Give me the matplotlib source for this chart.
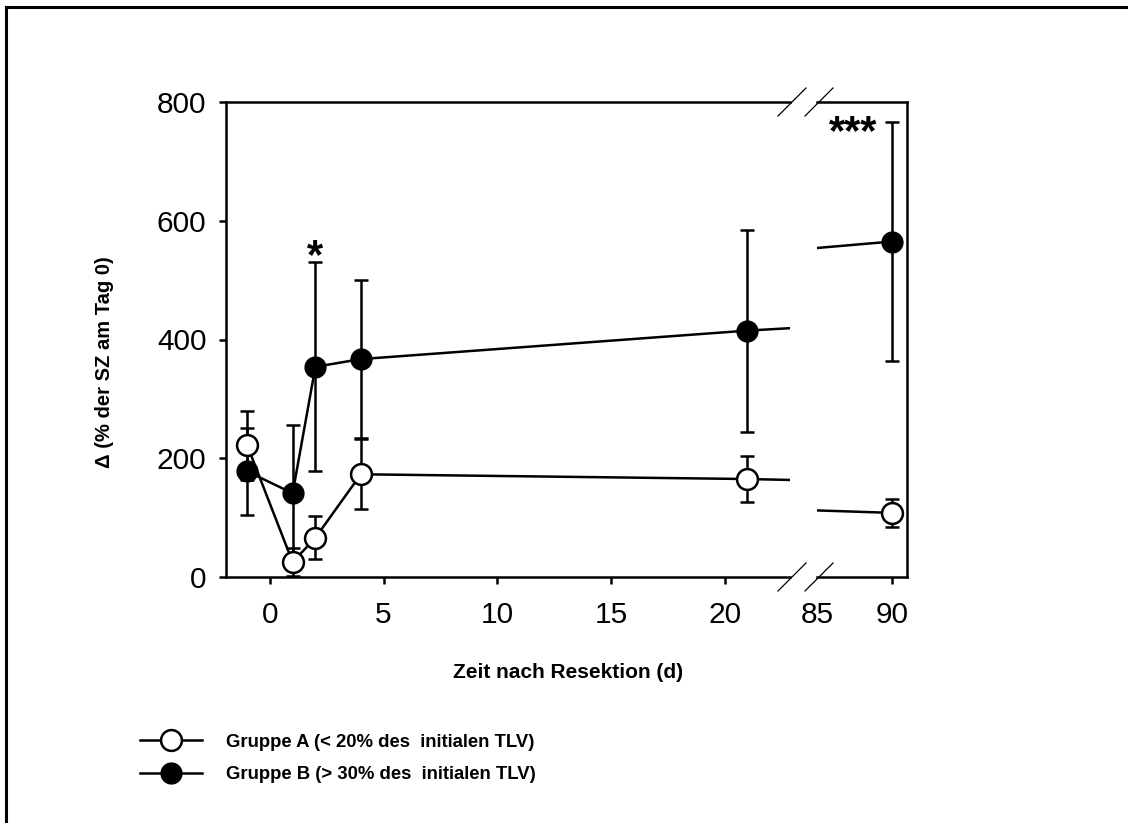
import matplotlib
matplotlib.use("Agg")
import matplotlib.pyplot as plt
from matplotlib.lines import Line2D

plt.rcParams["font.family"] = ["Liberation Sans", "DejaVu Sans"]

# data
days = [-1, 1, 2, 4, 21, 90]
group_a = [222, 25, 66, 173, 165, 108]
group_a_err = [58, 24, 36, 59, 38, 23]
group_b = [178, 141, 354, 367, 415, 565]
group_b_err = [73, 115, 176, 133, 170, 202]

left_ticks = [0, 5, 10, 15, 20]
right_ticks = [85, 90]
y_ticks = [0, 200, 400, 600, 800]

W, H = 1128, 823
fig = plt.figure(figsize=(W / 100, H / 100), dpi=100)


def px_axes(x0, y0, x1, y1):
    # axes from pixel box (left, top, right, bottom)
    return fig.add_axes([x0 / W, 1 - y1 / H, (x1 - x0) / W, (y1 - y0) / H])


ax1 = px_axes(226, 102, 790, 577)
ax2 = px_axes(817, 102, 907, 577)

lw = 1.8
ms = 15
for ax in (ax1, ax2):
    ax.errorbar(days, group_b, yerr=group_b_err, color="black", lw=lw,
                elinewidth=lw, capsize=5, capthick=lw, marker="o", ms=ms,
                mfc="black", mec="black", zorder=3)
    ax.errorbar(days, group_a, yerr=group_a_err, color="black", lw=lw,
                elinewidth=lw, capsize=5, capthick=lw, marker="o", ms=ms,
                mfc="white", mec="black", mew=1.8, zorder=4)
    ax.set_ylim(0, 800)
    ax.tick_params(direction="out", length=5, width=lw, labelsize=21.5)
    ax.tick_params(axis="x", pad=12)
    ax.tick_params(axis="y", pad=9)
    for sp in ax.spines.values():
        sp.set_linewidth(lw)

ax1.set_xlim(-1.93, 22.87)
ax1.set_xticks(left_ticks)
ax1.set_yticks(y_ticks)
ax1.spines["right"].set_visible(False)

ax2.set_xlim(85, 91)
ax2.set_xticks(right_ticks)
ax2.xaxis.get_major_ticks()[0].tick1line.set_visible(False)
ax2.spines["left"].set_visible(False)
ax2.tick_params(axis="y", left=False, labelleft=False)


# break marks
def slash(cx, cy):
    fig.add_artist(Line2D([(cx - 14) / W, (cx + 14) / W],
                          [1 - (cy + 14) / H, 1 - (cy - 14) / H],
                          color="black", lw=0.9))


for cy in (102, 577):
    slash(792, cy)
    slash(819, cy)

# significance marks
ax1.text(2, 521, "*", ha="center", va="baseline", fontsize=30,
         fontweight="bold")
ax2.text(87.4, 729, "***", ha="center", va="baseline", fontsize=30,
         fontweight="bold")

fig.text(568 / W, 1 - 672 / H, "Zeit nach Resektion (d)", ha="center",
         va="center", fontsize=15, fontweight="bold")
fig.text(104 / W, 1 - 362 / H, "Δ (% der SZ am Tag 0)", ha="center",
         va="center", fontsize=14.5, fontweight="bold", rotation=90)

# legend
handles = [
    Line2D([], [], color="black", lw=lw, marker="o", ms=ms, mfc="white",
           mec="black", mew=1.8),
    Line2D([], [], color="black", lw=lw, marker="o", ms=ms, mfc="black",
           mec="black"),
]
labels = ["Gruppe A (< 20% des  initialen TLV)",
          "Gruppe B (> 30% des  initialen TLV)"]
fig.legend(handles, labels, loc="upper left",
           bbox_to_anchor=(123 / W, 1 - 717 / H), frameon=False,
           handlelength=3.4, handletextpad=1.3, labelspacing=0.85,
           prop={"weight": "bold", "size": 13.3})

# outer frame (top and left only visible)
fig.add_artist(Line2D([6 / W, 1], [1 - 7 / H, 1 - 7 / H], color="black", lw=2.2))
fig.add_artist(Line2D([6 / W, 6 / W], [0, 1 - 7 / H], color="black", lw=2.2))

fig.savefig("out.png", dpi=100)
